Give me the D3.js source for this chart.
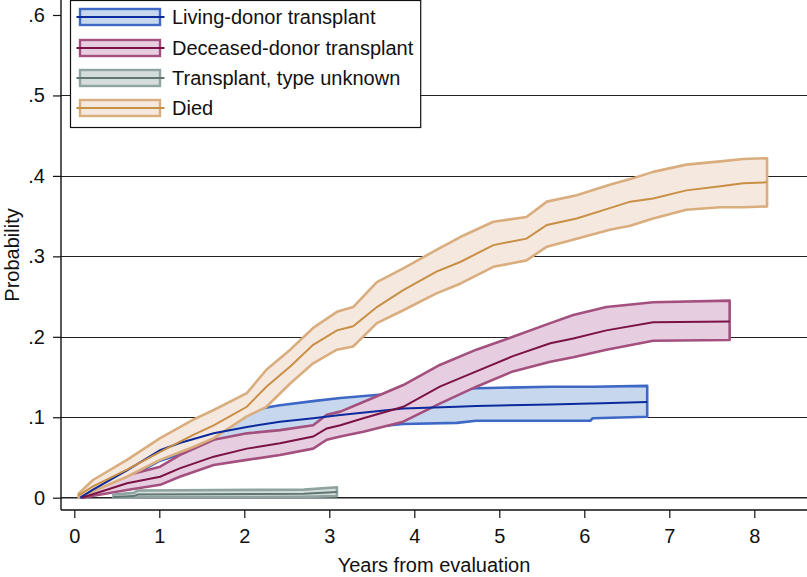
<!DOCTYPE html>
<html><head><meta charset="utf-8">
<script src="https://cdn.jsdelivr.net/npm/d3@7"></script>
<style>
html,body{margin:0;padding:0;background:#fff;}
svg{display:block;font-family:"Liberation Sans",Arial,Helvetica,sans-serif;}
</style></head>
<body>
<svg id="chart" width="807" height="577"></svg>
<script>
// ---------- data ----------
const seriesNames = ["Living-donor transplant","Deceased-donor transplant","Transplant, type unknown","Died"];

const livingT   = [0.07,0.22,0.62,1.01,1.24,1.64,2.03,2.42,2.81,3.13,3.87,4.50,4.73,5.60,6.07,6.10,6.74];
const livingEst = [0,0.010,0.034,0.059,0.068,0.080,0.088,0.0945,0.0987,0.1028,0.111,0.113,0.114,0.116,0.117,0.117,0.119];
const livingHi  = [0.002,0.016,0.046,0.072,0.082,0.096,0.108,0.115,0.120,0.124,0.1305,0.134,0.136,0.138,0.138,0.138,0.139];
const livingLo  = [0,0.005,0.024,0.046,0.054,0.065,0.070,0.076,0.080,0.084,0.0916,0.093,0.0957,0.0957,0.0957,0.0987,0.1007];

const deceasedT   = [0.09,0.62,1.01,1.24,1.64,2.03,2.42,2.81,2.97,3.13,3.40,3.87,4.30,4.73,5.16,5.60,5.87,6.26,6.81,7.71];
const deceasedEst = [0,0.018,0.026,0.0365,0.051,0.061,0.0676,0.076,0.086,0.090,0.0987,0.113,0.138,0.157,0.176,0.192,0.198,0.208,0.218,0.219];
const deceasedHi  = [0.002,0.028,0.0385,0.053,0.072,0.080,0.084,0.090,0.103,0.107,0.119,0.140,0.165,0.184,0.200,0.217,0.227,0.237,0.243,0.245];
const deceasedLo  = [0,0.0096,0.016,0.026,0.0406,0.047,0.053,0.061,0.072,0.076,0.082,0.0945,0.117,0.138,0.157,0.169,0.1745,0.184,0.195,0.196];

const unknownT   = [0.46,0.70,0.75,2.70,3.09];
const unknownEst = [0.001,0.002,0.004,0.005,0.007];
const unknownHi  = [0.004,0.006,0.009,0.010,0.013];
const unknownLo  = [0,0,0.0005,0.001,0.002];

const diedT   = [0.05,0.22,0.62,1.01,1.40,1.64,2.03,2.26,2.54,2.81,3.09,3.28,3.56,3.87,4.26,4.54,4.93,5.32,5.56,5.91,6.30,6.54,6.81,7.20,7.60,7.87,8.15];
const diedEst = [0.003,0.014,0.035,0.057,0.078,0.090,0.113,0.138,0.163,0.190,0.208,0.213,0.237,0.258,0.281,0.293,0.314,0.322,0.339,0.347,0.360,0.368,0.372,0.382,0.387,0.391,0.392];
const diedHi  = [0.005,0.022,0.047,0.074,0.097,0.109,0.130,0.159,0.184,0.211,0.231,0.237,0.268,0.285,0.308,0.324,0.343,0.349,0.368,0.376,0.389,0.396,0.405,0.414,0.418,0.421,0.422];
const diedLo  = [0,0.008,0.026,0.047,0.063,0.074,0.101,0.113,0.142,0.167,0.184,0.188,0.217,0.233,0.254,0.266,0.287,0.295,0.312,0.322,0.333,0.338,0.347,0.358,0.361,0.361,0.362];

const xTicks = [0,1,2,3,4,5,6,7,8];
const yTicks = [0,0.1,0.2,0.3,0.4,0.5,0.6];
const yTickLabels = ["0",".1",".2",".3",".4",".5",".6"];
const xTitle = "Years from evaluation";
const yTitle = "Probability";

// ---------- styles ----------
const styles = [
  {line:"#0b2a9e", fill:"#c7d8ee", edge:"#3e68c6"},
  {line:"#7b1244", fill:"#e6cde0", edge:"#a3507f"},
  {line:"#5f7673", fill:"#d5dddc", edge:"#8fa3a0"},
  {line:"#c88f45", fill:"#f5e8df", edge:"#d9ad7e"}
];
const FS = 20;
const FONT = "Liberation Sans, Arial, sans-serif";

const series = [
  {t:livingT, est:livingEst, hi:livingHi, lo:livingLo},
  {t:deceasedT, est:deceasedEst, hi:deceasedHi, lo:deceasedLo},
  {t:unknownT, est:unknownEst, hi:unknownHi, lo:unknownLo},
  {t:diedT, est:diedEst, hi:diedHi, lo:diedLo}
].map((s,i)=>({name:seriesNames[i], style:styles[i],
  pts:s.t.map((t,j)=>({t, e:s.est[j], h:s.hi[j], l:s.lo[j]}))}));

// ---------- layout ----------
const svg = d3.select("#chart");
const x = d3.scaleLinear().domain([0,8]).range([74.3,754.3]);
const y = d3.scaleLinear().domain([0,0.6]).range([497.7,15]);
const axisX = 61, axisY = 510, rightEdge = 807;

// gridlines
svg.append("g").selectAll("line").data(yTicks.filter(v=>v>0 && v<0.6)).join("line")
  .attr("x1",axisX).attr("x2",rightEdge)
  .attr("y1",d=>Math.round(y(d))+0.5).attr("y2",d=>Math.round(y(d))+0.5)
  .attr("stroke","#222").attr("stroke-width",1.1);
svg.append("line").attr("x1",axisX).attr("x2",rightEdge)
  .attr("y1",y(0)).attr("y2",y(0)).attr("stroke","#222").attr("stroke-width",1.6);

// bands
const area = d3.area().x(d=>x(d.t)).y0(d=>y(d.l)).y1(d=>y(d.h)).curve(d3.curveLinear);
const line = d3.line().x(d=>x(d.t)).y(d=>y(d.e)).curve(d3.curveLinear);

svg.append("g").selectAll("path").data(series).join("path")
  .attr("d",d=>area(d.pts))
  .attr("fill",d=>d.style.fill)
  .attr("stroke",d=>d.style.edge)
  .attr("stroke-width",2.6)
  .attr("stroke-linejoin","round");

svg.append("g").selectAll("path").data(series).join("path")
  .attr("d",d=>line(d.pts))
  .attr("fill","none")
  .attr("stroke",d=>d.style.line)
  .attr("stroke-width",2);

// axes
const gx = svg.append("g").attr("transform",`translate(0,${axisY})`)
  .call(d3.axisBottom(x).tickValues(xTicks).tickSize(8).tickSizeOuter(0).tickPadding(11).tickFormat(d3.format("d")));
gx.select(".domain").remove();
gx.selectAll("line").attr("stroke","#111").attr("stroke-width",1.2);
gx.selectAll("text").attr("font-size",FS).attr("fill","#111").attr("font-family",FONT);
svg.append("line").attr("x1",axisX).attr("x2",rightEdge).attr("y1",axisY).attr("y2",axisY)
  .attr("stroke","#111").attr("stroke-width",1.4);

const gy = svg.append("g").attr("transform",`translate(${axisX},0)`)
  .call(d3.axisLeft(y).tickValues(yTicks).tickSize(8).tickSizeOuter(0).tickPadding(8)
    .tickFormat((d,i)=>yTickLabels[i]));
gy.select(".domain").remove();
gy.selectAll("line").attr("stroke","#111").attr("stroke-width",1.2);
gy.selectAll("text").attr("font-size",FS).attr("fill","#111").attr("font-family",FONT);
svg.append("line").attr("x1",axisX).attr("x2",axisX).attr("y1",0).attr("y2",axisY)
  .attr("stroke","#111").attr("stroke-width",1.4);

// titles
svg.append("text").attr("x",(axisX+rightEdge)/2).attr("y",572).attr("text-anchor","middle")
  .attr("font-size",FS).attr("fill","#111").text(xTitle);
svg.append("text").attr("transform",`translate(19,${axisY/2}) rotate(-90)`).attr("text-anchor","middle")
  .attr("font-size",FS).attr("fill","#111").text(yTitle);

// legend
const lg = svg.append("g");
const box = lg.append("rect").attr("x",70.5).attr("y",0.5).attr("height",127)
  .attr("fill","#fff").attr("stroke","#111").attr("stroke-width",1.2);
const rowY = [17,48,78,108];
let maxRight = 0;
series.forEach((s,i)=>{
  const cy = rowY[i];
  lg.append("rect").attr("x",80).attr("y",cy-8).attr("width",80).attr("height",16)
    .attr("fill",s.style.fill).attr("stroke",s.style.edge).attr("stroke-width",2.4);
  lg.append("line").attr("x1",76.5).attr("x2",164.5).attr("y1",cy).attr("y2",cy)
    .attr("stroke",s.style.line).attr("stroke-width",2.2);
  const t = lg.append("text").attr("x",172).attr("y",cy+7).attr("font-size",FS).attr("fill","#111").text(s.name);
  maxRight = Math.max(maxRight, t.node().getBBox().x + t.node().getBBox().width);
});
box.attr("width", maxRight + 7 - 70.5);
</script>
</body></html>
